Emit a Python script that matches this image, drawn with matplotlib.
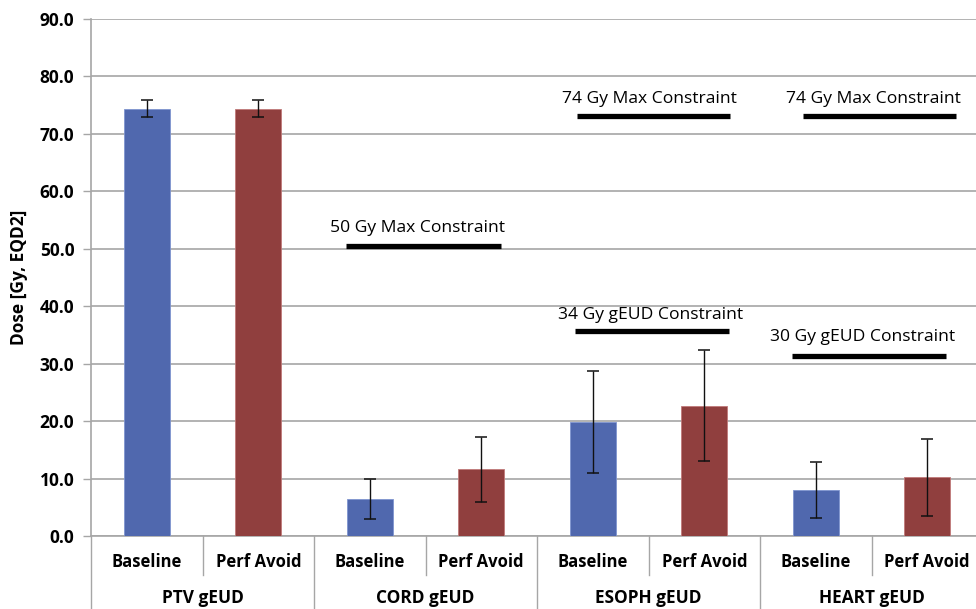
import numpy as np
import matplotlib
matplotlib.use('Agg')
import matplotlib.pyplot as plt
import matplotlib.transforms as mtransforms

plt.rcParams['font.family'] = ['Open Sans', 'DejaVu Sans']

# data
groups = ['PTV gEUD', 'CORD gEUD', 'ESOPH gEUD', 'HEART gEUD']
arms = ['Baseline', 'Perf Avoid']
baseline = [74.4, 6.4, 19.8, 8.0]
perf_avoid = [74.4, 11.6, 22.7, 10.2]
baseline_err = [1.5, 3.5, 8.9, 4.9]
perf_avoid_err = [1.5, 5.6, 9.6, 6.7]

# constraint bars: label, level drawn, x start, x end (category units)
constraint_labels = ['50 Gy Max Constraint', '74 Gy Max Constraint', '74 Gy Max Constraint',
                     '34 Gy gEUD Constraint', '30 Gy gEUD Constraint']
constraint_levels = [50.4, 73.2, 73.2, 35.6, 31.4]
constraint_x0 = [1.79, 3.86, 5.89, 3.84, 5.79]
constraint_x1 = [3.18, 5.23, 7.26, 5.22, 7.17]
constraint_text_x = [2.43, 4.51, 6.52, 4.52, 6.42]
constraint_text_y = [53.6, 76.1, 76.1, 38.4, 34.6]

blue = '#5068ae'
red = '#903f3e'

fig = plt.figure(figsize=(9.76, 6.09), dpi=100)
ax = fig.add_axes([91 / 976, 1 - 536 / 609, 892 / 976, 517 / 609])

pos_b = np.arange(len(groups)) * 2
pos_p = pos_b + 1
ax.bar(pos_b, baseline, width=0.41, color=blue, edgecolor='#7f95d0', linewidth=0.6, zorder=3)
ax.bar(pos_p, perf_avoid, width=0.41, color=red, edgecolor='#c07a79', linewidth=0.6, zorder=3)
ax.errorbar(pos_b, baseline, yerr=baseline_err, fmt='none', ecolor='#111111',
            elinewidth=1.0, capsize=4, capthick=1.1, zorder=4)
ax.errorbar(pos_p, perf_avoid, yerr=perf_avoid_err, fmt='none', ecolor='#111111',
            elinewidth=1.0, capsize=4, capthick=1.1, zorder=4)

for lab, lev, x0, x1, tx, ty in zip(constraint_labels, constraint_levels, constraint_x0,
                                    constraint_x1, constraint_text_x, constraint_text_y):
    ax.plot([x0, x1], [lev, lev], color='black', linewidth=3.8, solid_capstyle='butt', zorder=5)
    ax.text(tx, ty, lab, ha='center', va='center', fontsize=12.6, zorder=5)

ax.set_ylim(0, 90)
ax.set_xlim(-0.5, 7.5)
ax.set_yticks(np.arange(0, 91, 10))
ax.set_yticklabels(['%.1f' % v for v in np.arange(0, 91, 10)], fontsize=12.5, fontweight='bold')
ax.yaxis.grid(True, color='#a6a6a6', linewidth=1.2, zorder=0)
ax.set_axisbelow(True)
ax.tick_params(axis='y', length=6, width=1.0, color='#a6a6a6', pad=6)
ax.set_xticks([])
for s in ['top', 'right']:
    ax.spines[s].set_visible(False)
for s in ['left', 'bottom']:
    ax.spines[s].set_color('#a6a6a6')
    ax.spines[s].set_linewidth(1.2)

ax.set_ylabel('Dose [Gy, EQD2]', fontsize=12.5, fontweight='bold', labelpad=8)

# two level category axis
trans = mtransforms.blended_transform_factory(ax.transData, ax.transAxes)
for i, g in enumerate(groups):
    for j, a in enumerate(arms):
        ax.text(2 * i + j, -0.05, a, transform=trans, ha='center', va='center',
                fontsize=12, fontweight='bold')
    ax.text(2 * i + 0.5, -0.12, g, transform=trans, ha='center', va='center',
            fontsize=12.4, fontweight='bold')
    ax.plot([2 * i + 0.5] * 2, [0, -0.076], transform=trans, color='#a6a6a6',
            linewidth=1.0, clip_on=False)
for xb in np.arange(-0.5, 8, 2):
    ax.plot([xb, xb], [0, -0.2], transform=trans, color='#a6a6a6',
            linewidth=1.0, clip_on=False)

fig.savefig('out.png', dpi=100)
